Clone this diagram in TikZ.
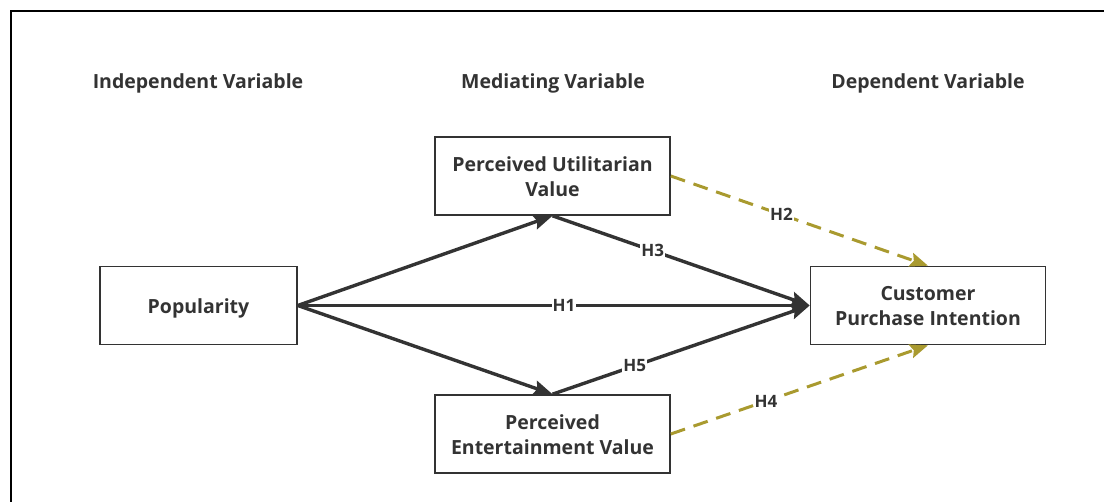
\documentclass[tikz,border=0pt]{standalone}
\usepackage{fontspec}
\setmainfont{Open Sans}
\usetikzlibrary{arrows.meta}
\definecolor{ink}{HTML}{333333}
\definecolor{olive}{HTML}{A99A2F}
\newcommand\boxtxt[1]{\raisebox{-3pt}[\height][\depth]{\begin{tabular}{@{}c@{}}#1\end{tabular}}}
\begin{document}
\begin{tikzpicture}[x=1pt,y=-1pt,
  box/.style={draw=ink,line width=1.6pt,minimum width=235pt,minimum height=78pt,text=ink,font=\fontsize{19.5}{25}\selectfont\bfseries},
  head/.style={text=ink,font=\fontsize{19.5}{22}\selectfont\bfseries},
  hlab/.style={text=ink,fill=white,inner sep=1pt,font=\fontsize{17}{18}\selectfont\bfseries},
  solidarr/.style={draw=ink,line width=3.4pt,-{Stealth[length=19pt,width=15pt,inset=3pt]}},
  dasharr/.style={draw=olive,line width=3pt,dash pattern=on 15pt off 9pt,-{Stealth[length=18pt,width=14pt,inset=3pt]}}]
\useasboundingbox (0,0) rectangle (1104,502);
\draw[line width=2.4pt,black] (11,503) -- (11,11) -- (1105,11);
\node[head] (h1) at (198,83) {Independent Variable};
\node[head] (h2) at (553,83) {Mediating Variable};
\node[head] (h3) at (928,83) {Dependent Variable};
\node[box,minimum width=197pt] (pop) at (198.5,305.5) {\boxtxt{Popularity}};
\node[box] (puv) at (552.5,176) {\boxtxt{Perceived Utilitarian\\Value}};
\node[box] (pev) at (552.5,434) {\boxtxt{Perceived\\Entertainment Value}};
\node[box] (cpi) at (928,305.5) {\boxtxt{Customer\\Purchase Intention}};
\draw[solidarr] (pop.east) -- (puv.south);
\draw[solidarr] (pop.east) -- (pev.north);
\draw[solidarr] (pop.east) -- node[hlab,pos=0.52] {H1} (cpi.west);
\draw[solidarr] (puv.south) -- node[hlab,pos=0.39] {H3} (cpi.west);
\draw[solidarr] (pev.north) -- node[hlab,pos=0.32] {H5} (cpi.west);
\draw[dasharr] (puv.east) -- node[hlab,pos=0.43] {H2} (cpi.north);
\draw[dasharr] (pev.east) -- node[hlab,pos=0.37] {H4} (cpi.south);
\end{tikzpicture}
\end{document}
